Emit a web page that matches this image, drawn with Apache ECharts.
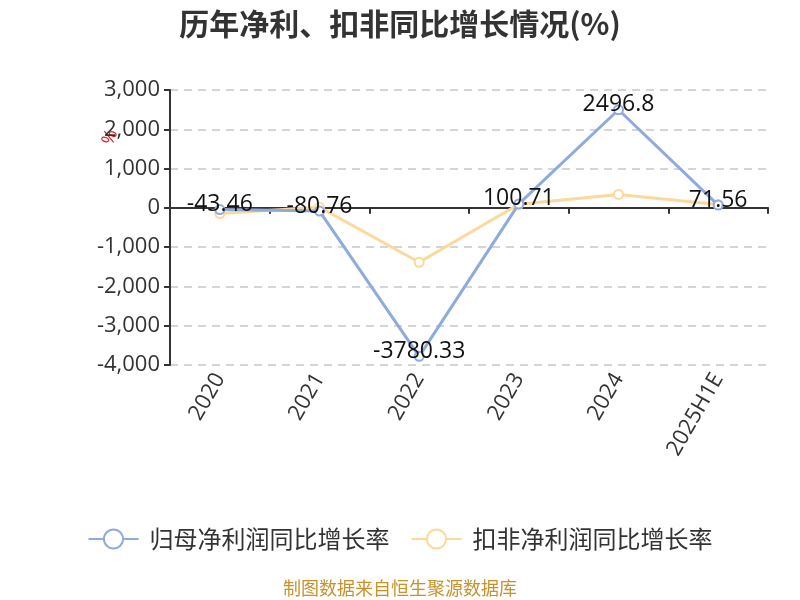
<!DOCTYPE html>
<html>
<head>
<meta charset="utf-8">
<script src="https://cdn.jsdelivr.net/npm/echarts@6/dist/echarts.min.js"></script>
<style>html,body{margin:0;padding:0;background:#fff}#c{width:800px;height:600px}</style>
</head>
<body>
<div id="c"></div>
<script>
const categories = ['2020', '2021', '2022', '2023', '2024', '2025H1E'];
const netProfitGrowth = [-43.46, -80.76, -3780.33, 100.71, 2496.8, 71.56];
const deductedGrowth = [-145, 15, -1385, 90, 342, 85];
const yTicks = { min: -4000, max: 3000, interval: 1000 };
const seriesNames = ['归母净利润同比增长率', '扣非净利润同比增长率'];

const chart = echarts.init(document.getElementById('c'));
const font = '"Open Sans", "Noto Sans CJK SC", sans-serif';
const cjk = '"Noto Sans CJK SC", sans-serif';
chart.setOption({
  animation: false,
  title: {
    text: '历年净利、扣非同比增长情况(%)',
    left: 'center', top: 4,
    textStyle: { fontSize: 30, fontWeight: 'bold', color: '#333', fontFamily: cjk }
  },
  grid: { left: 170, right: 32, top: 90, bottom: 235 },
  legend: {
    bottom: 44, left: 'center',
    itemWidth: 50, itemHeight: 24, itemGap: 21,
    textStyle: { fontSize: 24, color: '#333', fontFamily: cjk, padding: [0, 0, 0, 6] },
    data: seriesNames
  },
  graphic: [
    { type: 'text', left: 'center', top: 579,
      style: { text: '制图数据来自恒生聚源数据库', fill: '#c8922a', fontSize: 18, fontFamily: cjk } },
    { type: 'text', x: 99, y: 141, rotation: 1.2,
      style: { text: '%', fill: '#e02020', fontSize: 18, fontFamily: font } }
  ],
  xAxis: [
    {
      type: 'category', data: categories, boundaryGap: true,
      axisLine: { onZero: true, lineStyle: { color: '#333', width: 2 } },
      axisTick: { show: true, length: 6, lineStyle: { color: '#333', width: 2 } },
      axisLabel: { show: false }
    },
    {
      type: 'category', data: categories, boundaryGap: true, position: 'bottom',
      axisLine: { show: false, onZero: false },
      axisTick: { show: false },
      axisLabel: { rotate: 60, fontSize: 22, color: '#333', margin: 10, fontFamily: font }
    }
  ],
  yAxis: {
    type: 'value', min: yTicks.min, max: yTicks.max, interval: yTicks.interval,
    axisLine: { show: true, lineStyle: { color: '#333', width: 2 } },
    axisTick: { show: true, length: 6, lineStyle: { color: '#333', width: 2 } },
    axisLabel: { fontSize: 22, color: '#333', margin: 10, fontFamily: font },
    splitLine: { show: true, lineStyle: { color: '#c8c8c8', type: [8, 6], width: 1.5 } }
  },
  series: [
    {
      name: seriesNames[0], type: 'line', data: netProfitGrowth,
      symbol: 'emptyCircle', symbolSize: 9,
      lineStyle: { color: '#8eabdb', width: 3 },
      itemStyle: { color: '#8eabdb', borderWidth: 2 },
      label: { show: true, position: 'inside', offset: [0, -5], fontSize: 23, color: '#111', fontFamily: font },
      z: 3
    },
    {
      name: seriesNames[1], type: 'line', data: deductedGrowth,
      symbol: 'emptyCircle', symbolSize: 9,
      lineStyle: { color: '#fdd89b', width: 3 },
      itemStyle: { color: '#fdd89b', borderWidth: 2 },
      z: 2
    }
  ]
});
</script>
</body>
</html>
